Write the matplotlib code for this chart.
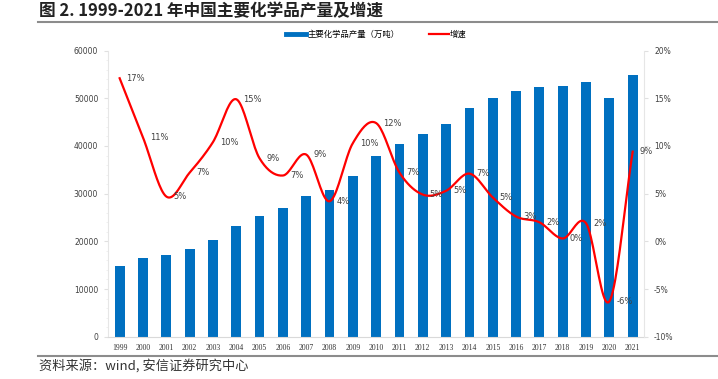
import numpy as np
import matplotlib
matplotlib.use("Agg")
import matplotlib.pyplot as plt
from matplotlib.lines import Line2D
from matplotlib.ticker import MultipleLocator, FuncFormatter

plt.rcParams['font.family'] = ['Noto Sans CJK SC', 'DejaVu Sans']

years = [str(y) for y in range(1999, 2022)]
# 主要化学品产量（万吨）
output = [14820, 16440, 17130, 18320, 20210, 23270, 25300, 27040, 29560, 30690,
          33690, 37880, 40400, 42430, 44590, 47880, 50100, 51440, 52410, 52620,
          53460, 50100, 54860]
# 增速 (%)
growth = [17.1, 10.9, 4.7, 7.2, 10.4, 14.9, 8.7, 6.9, 9.1, 4.2,
          10.3, 12.4, 7.2, 4.9, 5.3, 7.1, 4.6, 2.6, 2.0, 0.3,
          1.9, -6.3, 9.4]

BLUE = '#0070C0'
RED = '#FF0000'


def smooth(x, y, n=20):
    # catmull-rom curve through the points, like excel's smoothed line
    x = np.asarray(x, float)
    y = np.asarray(y, float)
    px = np.concatenate([[2 * x[0] - x[1]], x, [2 * x[-1] - x[-2]]])
    py = np.concatenate([[2 * y[0] - y[1]], y, [2 * y[-1] - y[-2]]])
    xs, ys = [], []
    t = np.linspace(0, 1, n, endpoint=False)
    for i in range(1, len(px) - 2):
        for arr, out in ((px, xs), (py, ys)):
            p0, p1, p2, p3 = arr[i - 1], arr[i], arr[i + 1], arr[i + 2]
            out.extend(0.5 * (2 * p1 + (-p0 + p2) * t
                              + (2 * p0 - 5 * p1 + 4 * p2 - p3) * t ** 2
                              + (-p0 + 3 * p1 - 3 * p2 + p3) * t ** 3))
    xs.append(x[-1])
    ys.append(y[-1])
    return np.array(xs), np.array(ys)


fig = plt.figure(figsize=(7.18, 3.79), dpi=100)
ax = fig.add_axes([0.1504, 0.1116, 0.7470, 0.7549])
ax2 = ax.twinx()

idx = np.arange(len(years))
ax.bar(idx, output, width=0.42, color=BLUE, zorder=2)
ax.set_xlim(-0.5, len(years) - 0.5)
ax.set_ylim(0, 60000)
ax.yaxis.set_major_locator(MultipleLocator(10000))
ax.yaxis.set_minor_locator(MultipleLocator(2000))
ax.set_xticks(idx)
ax.set_xticklabels(years, fontsize=5.5, family='Liberation Serif', color='#333333')

sx, sy = smooth(idx, growth)
ax2.plot(sx, sy, color=RED, lw=1.6, zorder=3)
ax2.set_ylim(-10, 20)
ax2.yaxis.set_major_locator(MultipleLocator(5))
ax2.yaxis.set_major_formatter(FuncFormatter(lambda v, p: f'{v:.0f}%'))
for i, g in enumerate(growth):
    ax2.annotate(f'{round(g):.0f}%', (i, g), xytext=(5, 0), textcoords='offset points',
                 ha='left', va='center', fontsize=6, family='DejaVu Sans', color='#404040')

for a in (ax, ax2):
    for s in a.spines.values():
        s.set_visible(False)
ax.spines['left'].set_visible(True)
ax.spines['left'].set_color('#e6e6e6')
ax.spines['bottom'].set_visible(True)
ax.spines['bottom'].set_color('#d9d9d9')
ax2.spines['right'].set_visible(True)
ax2.spines['right'].set_color('#e6e6e6')

ax.tick_params(axis='y', which='major', length=3, color='#e0e0e0', labelsize=5.5,
               labelcolor='#404040', pad=4)
ax.tick_params(axis='y', which='minor', length=1.5, color='#eeeeee')
ax.tick_params(axis='x', length=0, pad=5)
ax2.tick_params(axis='y', length=3, color='#e0e0e0', labelsize=5.5, labelcolor='#404040', pad=4)
for lab in ax.get_yticklabels() + ax2.get_yticklabels():
    lab.set_family('DejaVu Sans')

handles = [Line2D([], [], color=BLUE, lw=3.5), Line2D([], [], color=RED, lw=1.6)]
fig.legend(handles, ['主要化学品产量（万吨）', '增速'], loc='center',
           bbox_to_anchor=(0.524, 0.908), ncol=2, frameon=False, fontsize=6,
           handlelength=2.4, handletextpad=0.2, columnspacing=3.5)

fig.text(0.055, 0.972, '图 2. 1999-2021 年中国主要化学品产量及增速', fontsize=12,
         fontweight='bold', va='center', ha='left', color='#222222')
fig.add_artist(Line2D([0.053, 1.0], [0.942, 0.942], color='#8c8c8c', lw=1.5))
fig.add_artist(Line2D([0.053, 1.0], [0.061, 0.061], color='#8c8c8c', lw=1.5))
fig.text(0.055, 0.035, '资料来源：wind, 安信证券研究中心', fontsize=9.5,
         va='center', ha='left', color='#333333', style='italic')

fig.savefig('out.png', dpi=100)
